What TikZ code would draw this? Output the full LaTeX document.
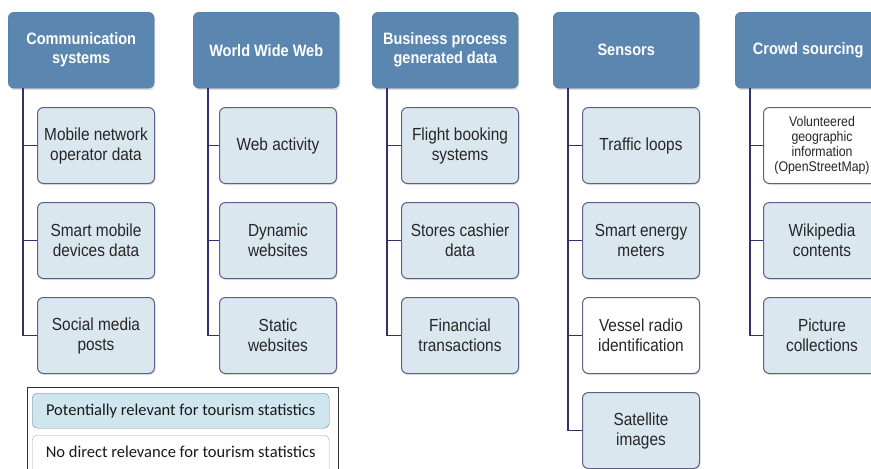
\documentclass[tikz,border=0pt]{standalone}
\usepackage{fontspec}
\setmainfont[FakeStretch=0.88]{Liberation Sans}
\newfontfamily\legfont{Carlito}
\usetikzlibrary{shadows}
\definecolor{hdrfill}{HTML}{5A86B0}
\definecolor{hdrline}{HTML}{4E78A2}
\definecolor{kidfill}{HTML}{DAE7EF}
\definecolor{kidline}{HTML}{5E608C}
\definecolor{connc}{HTML}{34306E}
\definecolor{legfill}{HTML}{CFE6EF}
\definecolor{legline}{HTML}{6E8596}
\tikzset{
  hdr/.style={draw=hdrline, fill=hdrfill, rounded corners=6pt, minimum width=146pt, minimum height=76pt,
    inner sep=0pt, align=center, text=white, font=\fontsize{16.5}{19}\selectfont\bfseries, anchor=north west,
    drop shadow={shadow xshift=1pt, shadow yshift=-2pt, opacity=0.25}},
  kid/.style={draw=kidline, line width=1pt, fill=kidfill, rounded corners=6pt, minimum width=117pt, minimum height=76pt,
    inner sep=0pt, align=center, text=black!85, font=\fontsize{17.5}{20}\selectfont, anchor=north west,
    drop shadow={shadow xshift=1pt, shadow yshift=-1.5pt, opacity=0.2}},
  kidw/.style={kid, fill=white},
  conn/.style={draw=connc, line width=1.6pt},
  legbox/.style={rounded corners=5pt, minimum width=297pt, inner sep=0pt, anchor=north west,
    font=\legfont\fontsize{16.5}{18}\selectfont, text=black!90}
}
\begin{document}
\begin{tikzpicture}[x=1pt,y=-1pt]
\useasboundingbox (0,0) rectangle (871,469);
\clip (0,0) rectangle (871,469);
\fill[white] (0,0) rectangle (871,469);
% headers
\node[hdr] (h1) at (8,12) {Communication\\systems};
\node[hdr] (h2) at (193,12) {World Wide Web};
\node[hdr] (h3) at (372,12) {Business process\\generated data};
\node[hdr] (h4) at (553,12) {Sensors};
\node[hdr] (h5) at (735,12) {Crowd sourcing};
% column 1
\node[kid] (c11) at (37,107) {Mobile network\\operator data};
\node[kid] (c12) at (37,202) {Smart mobile\\devices data};
\node[kid] (c13) at (37,297) {Social media\\posts};
% column 2
\node[kid] (c21) at (219,107) {Web activity};
\node[kid] (c22) at (219,202) {Dynamic\\websites};
\node[kid] (c23) at (219,297) {Static\\websites};
% column 3
\node[kid] (c31) at (401,107) {Flight booking\\systems};
\node[kid] (c32) at (401,202) {Stores cashier\\data};
\node[kid] (c33) at (401,297) {Financial\\transactions};
% column 4
\node[kid] (c41) at (582,107) {Traffic loops};
\node[kid] (c42) at (582,202) {Smart energy\\meters};
\node[kidw] (c43) at (582,297) {Vessel radio\\identification};
\node[kid] (c44) at (582,392) {Satellite\\images};
% column 5
\node[kidw, font=\fontsize{14}{15}\selectfont] (c51) at (763,107) {Volunteered\\geographic\\information\\(OpenStreetMap)};
\node[kid] (c52) at (763,202) {Wikipedia\\contents};
\node[kid] (c53) at (763,297) {Picture\\collections};
% connectors
\foreach \h/\k in {h1/c11,h1/c12,h1/c13,h2/c21,h2/c22,h2/c23,h3/c31,h3/c32,h3/c33,h4/c41,h4/c42,h4/c43,h4/c44,h5/c51,h5/c52,h5/c53}
  \draw[conn] ([xshift=15pt]\h.south west) |- (\k.west);
% legend
\node[draw=black!80, line width=0.8pt, minimum width=311pt, minimum height=100pt, anchor=north west, inner sep=0pt] (leg) at (27,387) {};
\node[legbox, draw=legline, fill=legfill, minimum height=35pt] (l1) at (32,393) {Potentially relevant for tourism statistics};
\node[legbox, draw=legline!70, fill=white, minimum height=40pt, text depth=6pt] (l2) at (32,435) {No direct relevance for tourism statistics};
\end{tikzpicture}
\end{document}
